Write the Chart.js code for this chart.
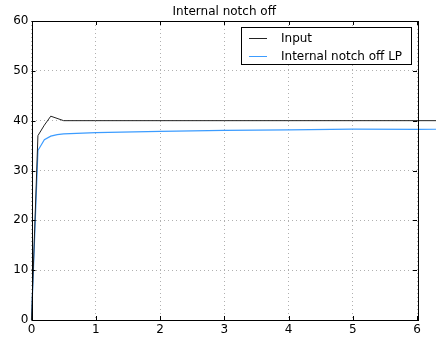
<!DOCTYPE html>
<html lang="en">
<head>
    <meta charset="UTF-8">
    <title>Internal notch off</title>
    <script src="https://cdn.jsdelivr.net/npm/chart.js"></script>
    <style>
        html, body { margin: 0; padding: 0; background: #fff; }
        .frame { width: 436px; height: 342px; position: relative; }
    </style>
</head>
<body>
    <div class="frame">
        <canvas id="notchChart" width="436" height="342"></canvas>
    </div>
    <script>
        // data
        const chartTitle = 'Internal notch off';
        const seriesNames = ['Input', 'Internal notch off LP'];
        const inputX = [0, 0.1, 0.2, 0.3, 0.5, 1, 2, 3, 4, 5, 6, 6.5];
        const inputY = [0, 37, 39.1, 40.9, 40, 40, 40, 40, 40, 40, 40, 40];
        const lpX = [0, 0.1, 0.2, 0.3, 0.4, 0.5, 1, 2, 3, 4, 5, 6, 6.5];
        const lpY = [0, 34, 36.2, 36.9, 37.2, 37.35, 37.6, 37.85, 38.05, 38.15, 38.3, 38.25, 38.3];
        const xTicks = [0, 1, 2, 3, 4, 5, 6];
        const yTicks = [0, 10, 20, 30, 40, 50, 60];

        const lineColors = ['#222222', '#3c9cff'];
        const font = { family: 'DejaVu Sans', size: 12 };

        function toPoints(xs, ys) {
            return xs.map((x, i) => ({ x: x, y: ys[i] }));
        }

        // frame, inner ticks, title and legend like the matplotlib original
        const decorPlugin = {
            id: 'decor',
            afterDraw(chart) {
                const ctx = chart.ctx;
                const a = chart.chartArea;
                const xs = chart.scales.x, ys = chart.scales.y;
                ctx.save();
                ctx.strokeStyle = '#000';
                ctx.lineWidth = 1;
                ctx.strokeRect(Math.round(a.left) + 0.5, Math.round(a.top) + 0.5,
                    Math.round(a.right - a.left), Math.round(a.bottom - a.top));
                ctx.beginPath();
                xTicks.forEach(t => {
                    const px = Math.round(xs.getPixelForValue(t)) + 0.5;
                    ctx.moveTo(px, a.bottom); ctx.lineTo(px, a.bottom - 4);
                    ctx.moveTo(px, a.top); ctx.lineTo(px, a.top + 4);
                });
                yTicks.forEach(t => {
                    const py = Math.round(ys.getPixelForValue(t)) + 0.5;
                    ctx.moveTo(a.left, py); ctx.lineTo(a.left + 4, py);
                    ctx.moveTo(a.right, py); ctx.lineTo(a.right - 4, py);
                });
                ctx.stroke();

                // title centred over the plot
                ctx.fillStyle = '#000';
                ctx.font = '12px "DejaVu Sans"';
                ctx.textAlign = 'center';
                ctx.textBaseline = 'bottom';
                ctx.fillText(chartTitle, (a.left + a.right) / 2, a.top - 3);

                // legend box in upper right
                const bx = 241.5, by = 27.5, bw = 170, bh = 37;
                ctx.fillStyle = '#fff';
                ctx.fillRect(bx, by, bw, bh);
                ctx.strokeStyle = '#000';
                ctx.strokeRect(bx, by, bw, bh);
                ctx.textAlign = 'left';
                ctx.textBaseline = 'middle';
                seriesNames.forEach((name, i) => {
                    const ly = Math.round(by + 10 + i * 18) + 0.5;
                    ctx.strokeStyle = lineColors[i];
                    ctx.beginPath();
                    ctx.moveTo(249, ly); ctx.lineTo(267, ly);
                    ctx.stroke();
                    ctx.fillStyle = '#000';
                    ctx.fillText(name, 281, ly);
                });
                ctx.restore();
            }
        };

        const ctx = document.getElementById('notchChart').getContext('2d');
        new Chart(ctx, {
            type: 'line',
            data: {
                datasets: [
                    { label: seriesNames[0], data: toPoints(inputX, inputY),
                      borderColor: lineColors[0], borderWidth: 1, pointRadius: 0, tension: 0, clip: false },
                    { label: seriesNames[1], data: toPoints(lpX, lpY),
                      borderColor: lineColors[1], borderWidth: 1.2, pointRadius: 0, tension: 0, clip: false }
                ]
            },
            options: {
                responsive: false,
                animation: false,
                layout: { padding: { left: 0, right: 19, top: 21, bottom: 0 } },
                plugins: {
                    legend: { display: false },
                    title: { display: false },
                    tooltip: { enabled: false }
                },
                scales: {
                    x: {
                        type: 'linear',
                        // fixed range set here so the lines may run past the right frame like the original
                        afterDataLimits: s => { s.min = 0; s.max = 6; },
                        afterFit: s => { s.height = 22; },
                        afterBuildTicks: s => { s.ticks = xTicks.map(v => ({ value: v })); },
                        ticks: { color: '#000', font: font, padding: 3, maxRotation: 0 },
                        grid: { color: '#b0b0b0', drawTicks: false },
                        border: { display: false, dash: [1, 3] }
                    },
                    y: {
                        type: 'linear', min: 0, max: 60,
                        afterFit: s => { s.width = 31.5; },
                        afterBuildTicks: s => { s.ticks = yTicks.map(v => ({ value: v })); },
                        ticks: { color: '#000', font: font, padding: 3 },
                        grid: { color: '#b0b0b0', drawTicks: false },
                        border: { display: false, dash: [1, 3] }
                    }
                }
            },
            plugins: [decorPlugin]
        });
    </script>
</body>
</html>
